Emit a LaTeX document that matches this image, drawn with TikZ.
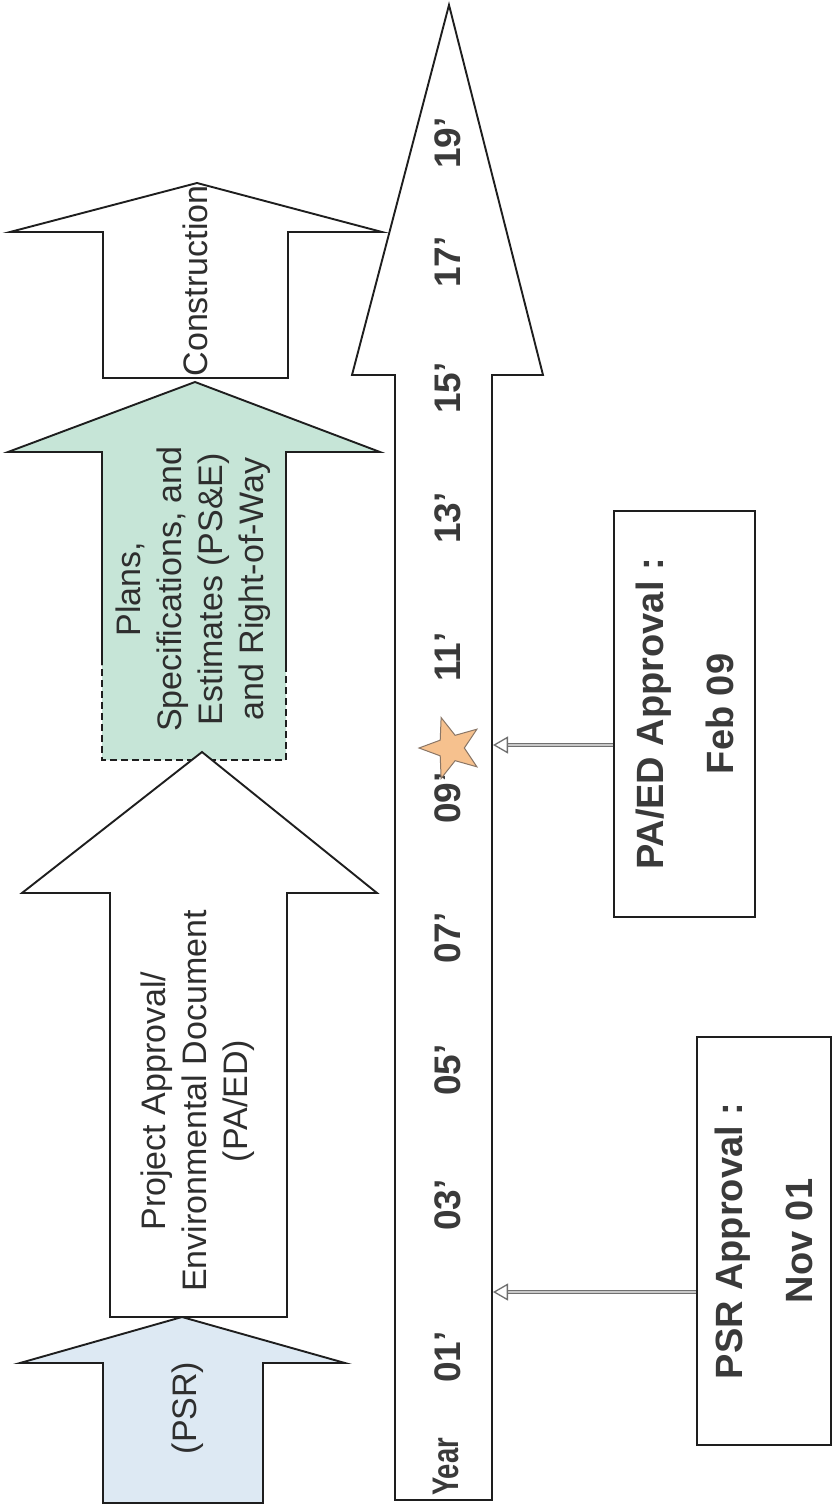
\documentclass[tikz,border=0pt]{standalone}
\usepackage{fontspec}
\setmainfont{Liberation Sans}
\usetikzlibrary{arrows.meta,shapes.geometric}

\definecolor{psrblue}{HTML}{DDE9F3}
\definecolor{psegreen}{HTML}{C6E5D7}
\definecolor{starfill}{HTML}{F6C18E}
\definecolor{starline}{HTML}{8A7666}
\definecolor{outline}{HTML}{1E1E1E}
\definecolor{txt}{HTML}{2E2E2E}
\definecolor{lbl}{HTML}{3A3A3A}
\definecolor{ptrline}{HTML}{707070}
\definecolor{ptrfill}{HTML}{C8C8C8}

\begin{document}
\begin{tikzpicture}[x=1pt,y=1pt,
  blockarrow/.style={draw=outline, line width=1.9pt, line join=miter},
  phasetext/.style={rotate=90, align=center, text=txt, font=\fontsize{34}{41}\selectfont, inner sep=0pt},
  yearlbl/.style={rotate=90, text=lbl, font=\bfseries\fontsize{37}{37}\selectfont, inner sep=0pt},
  apprbox/.style={rotate=90, draw=outline, line width=2pt, fill=white, align=center, text=lbl, font=\bfseries\fontsize{38}{70}\selectfont, inner sep=0pt},
  pointer/.style={draw=ptrline, line width=1.2pt, double=ptrfill, double distance=1.8pt, -{Triangle[open, length=15pt, width=17pt, line width=1.3pt]}},
]
\fill[white] (0,0) rectangle (833,-1506);
\useasboundingbox (0,0) rectangle (833,-1506);

% timeline arrow
\draw[blockarrow, fill=white] (395,-1500) -- (395,-375) -- (352,-375) -- (449,-5) -- (543,-375) -- (492,-375) -- (492,-1500) -- cycle;

% Construction arrow
\draw[blockarrow, fill=white] (103,-378) -- (103,-232) -- (10,-232) -- (197,-183) -- (382,-232) -- (288,-232) -- (288,-378) -- cycle;

% PS&E arrow (green, dashed lower part)
\fill[psegreen] (102,-760) -- (102,-452) -- (8,-452) -- (195,-382) -- (380,-452) -- (286,-452) -- (286,-760) -- cycle;
\draw[blockarrow] (102,-665) -- (102,-452) -- (8,-452) -- (195,-382) -- (380,-452) -- (286,-452) -- (286,-665);
\draw[blockarrow, dashed, dash pattern=on 7pt off 4pt] (286,-665) -- (286,-760) -- (102,-760) -- (102,-665);

% PA/ED arrow
\draw[blockarrow, fill=white] (110,-1317) -- (110,-893) -- (22,-893) -- (202,-752) -- (377,-893) -- (287,-893) -- (287,-1317) -- cycle;

% PSR arrow
\draw[blockarrow, fill=psrblue] (103,-1503) -- (103,-1363) -- (20,-1363) -- (182,-1317) -- (345,-1363) -- (263,-1363) -- (263,-1503) -- cycle;

% phase texts
\node[phasetext] (tcons) at (195,-281) {Construction};
\node[phasetext] (tpse) at (193,-589) {Plans,\\Specifications, and\\Estimates (PS\&E)\\and Right-of-Way};
\node[phasetext] (tpaed) at (198,-1101) {Project Approval/\\Environmental Document\\(PA/ED)};
\node[phasetext] (tpsr) at (188,-1408) {(PSR)};

% year labels
\node[yearlbl] (yr) at (446,-1467) {\scalebox{0.74}[1]{Year}};
\foreach \n/\t/\yy in {y01/01’/1357, y03/03’/1205, y05/05’/1070, y07/07’/938, y09/09’/798, y11/11’/657, y13/13’/518, y15/15’/388, y17/17’/262, y19/19’/143}
  \node[yearlbl] (\n) at (448,-\yy) {\t};

% star
\node[star, star points=5, star point ratio=2.4, shape border rotate=90, minimum size=64pt, inner sep=0pt, fill=starfill, draw=starline, line width=1pt] (star) at (451,-748) {};

% approval boxes
\node[apprbox, minimum width=406pt, minimum height=141pt] (paed) at (684.5,-714) {PA/ED Approval :\\Feb 09};
\node[apprbox, minimum width=408pt, minimum height=134pt] (psrbox) at (764,-1241) {PSR Approval :\\Nov 01};

% connectors
\coordinate (tpaedpt) at (493,-745);
\coordinate (tpsrpt) at (493,-1292);
\draw[pointer] (paed.north |- tpaedpt) -- (tpaedpt);
\draw[pointer] (psrbox.north |- tpsrpt) -- (tpsrpt);
\end{tikzpicture}
\end{document}
